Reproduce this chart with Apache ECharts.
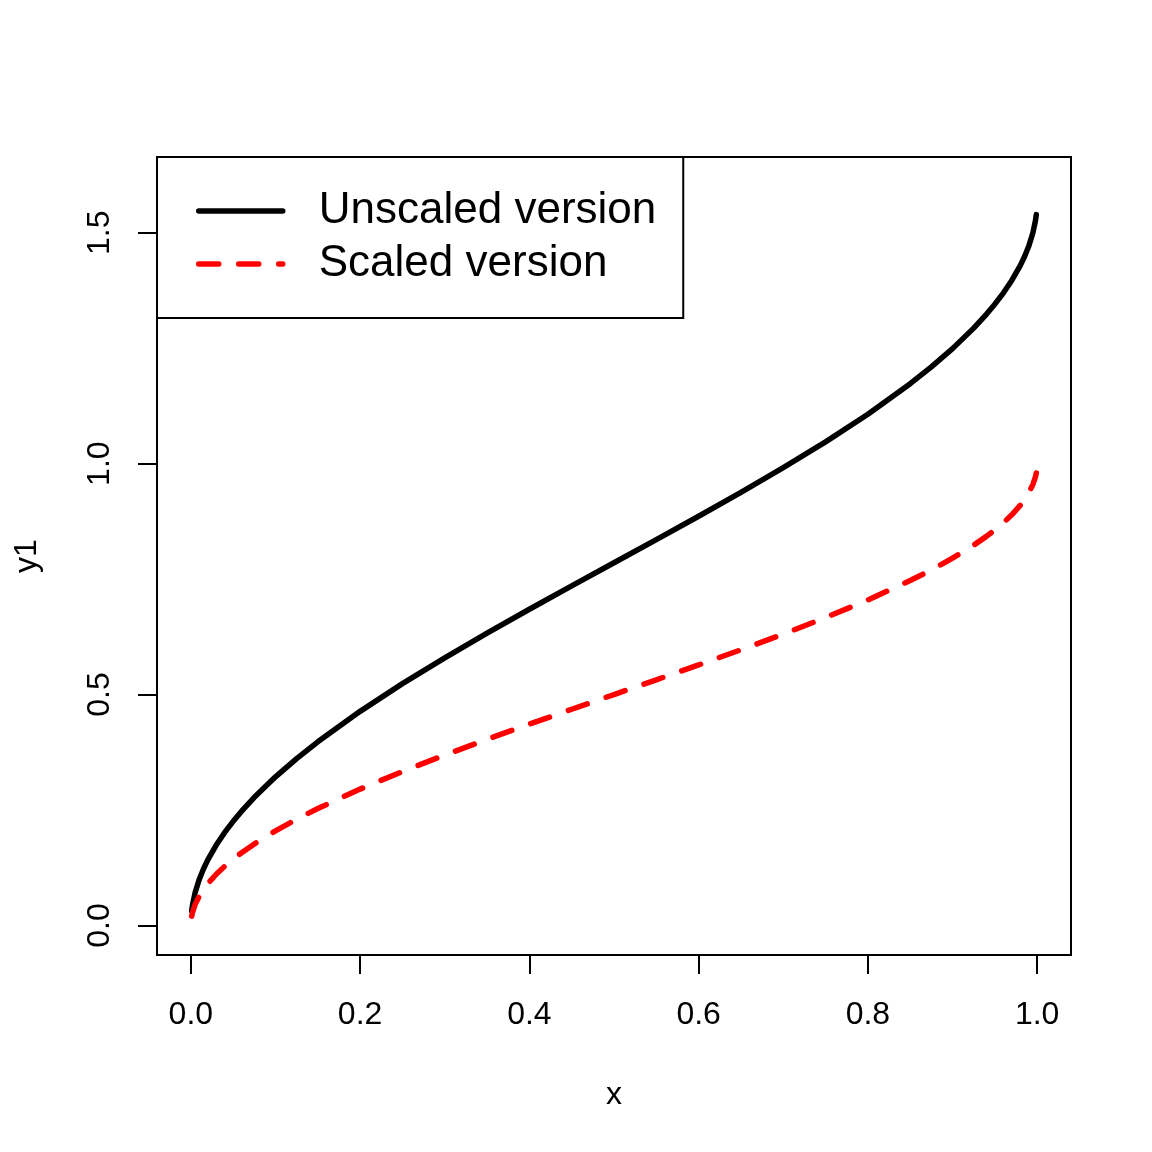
<!DOCTYPE html>
<html>
<head>
<meta charset="utf-8">
<title>y1 vs x</title>
<script src="https://cdn.jsdelivr.net/npm/echarts@6/dist/echarts.min.js"></script>
<style>
    html, body { margin: 0; padding: 0; background: #fff; }
    #main { width: 1152px; height: 1152px; }
</style>
</head>
<body>
<div id="main"></div>
<script>
// x positions of the sampled curve
var xValues = [0.001, 0.002, 0.005, 0.01, 0.015, 0.02, 0.03, 0.04, 0.05, 0.06, 0.075, 0.1, 0.125, 0.15,
    0.2, 0.25, 0.3, 0.35, 0.4, 0.45, 0.5, 0.55, 0.6, 0.65, 0.7, 0.75, 0.8, 0.85, 0.875, 0.9,
    0.925, 0.94, 0.95, 0.96, 0.97, 0.98, 0.985, 0.99, 0.995, 0.998, 0.999];

// black solid curve
var unscaledValues = [0.0316, 0.0447, 0.0708, 0.1002, 0.1228, 0.1419, 0.1741, 0.2014, 0.2255, 0.2475,
    0.2774, 0.3218, 0.3614, 0.3977, 0.4636, 0.5236, 0.5796, 0.6331, 0.6847, 0.7353, 0.7854,
    0.8355, 0.8861, 0.9377, 0.9912, 1.0472, 1.1071, 1.1731, 1.2094, 1.2490, 1.2934, 1.3233,
    1.3453, 1.3694, 1.3967, 1.4289, 1.4480, 1.4706, 1.5000, 1.5261, 1.5392];

// red dashed curve
var scaledValues = [0.0201, 0.0285, 0.0451, 0.0638, 0.0782, 0.0903, 0.1108, 0.1282, 0.1436, 0.1575,
    0.1766, 0.2048, 0.2301, 0.2532, 0.2952, 0.3333, 0.3690, 0.4030, 0.4359, 0.4681, 0.5000,
    0.5319, 0.5641, 0.5970, 0.6310, 0.6667, 0.7048, 0.7468, 0.7699, 0.7952, 0.8234, 0.8425,
    0.8564, 0.8718, 0.8892, 0.9097, 0.9218, 0.9362, 0.9550, 0.9715, 0.9799];

var xTicks = [0, 0.2, 0.4, 0.6, 0.8, 1.0];
var yTicks = [0, 0.5, 1.0, 1.5];

var seriesNames = ['Unscaled version', 'Scaled version'];

var font = '"Liberation Sans", Arial, sans-serif';

function pairs(xs, ys) {
    var out = [];
    for (var i = 0; i < xs.length; i++) {
        out.push([xs[i], ys[i]]);
    }
    return out;
}

var chart = echarts.init(document.getElementById('main'), null, {renderer: 'canvas'});

var option = {
    backgroundColor: '#fff',
    animation: false,
    textStyle: {fontFamily: font, color: '#000'},
    grid: {
        left: 157,
        top: 157,
        width: 914,
        height: 798,
        show: true,
        borderColor: '#000',
        borderWidth: 2,
        backgroundColor: 'transparent'
    },
    legend: {
        left: 157,
        top: 157,
        orient: 'vertical',
        data: seriesNames,
        itemWidth: 84,
        itemHeight: 14,
        itemGap: 0,
        padding: [27.5, 27, 27.5, 39],
        borderColor: '#000',
        borderWidth: 2,
        borderRadius: 0,
        backgroundColor: '#fff',
        selectedMode: false,
        itemStyle: {opacity: 0},
        lineStyle: {width: 5.5, cap: 'round'},
        textStyle: {
            fontFamily: font,
            fontSize: 44,
            color: '#000',
            lineHeight: 45,
            padding: [8, 0, 0, 31]
        }
    },
    xAxis: {
        type: 'value',
        min: -0.04,
        max: 1.04,
        name: 'x',
        nameLocation: 'middle',
        nameGap: 124,
        nameTextStyle: {fontFamily: font, fontSize: 32, color: '#000'},
        splitLine: {show: false},
        axisLine: {show: false, onZero: false},
        axisTick: {
            show: true,
            inside: false,
            length: 19,
            customValues: xTicks,
            lineStyle: {color: '#000', width: 2}
        },
        axisLabel: {
            show: true,
            margin: 44,
            fontFamily: font,
            fontSize: 32,
            color: '#000',
            customValues: xTicks,
            formatter: function (v) {
                return v.toFixed(1);
            }
        }
    },
    yAxis: {
        type: 'value',
        min: -0.064,
        max: 1.664,
        name: 'y1',
        nameLocation: 'middle',
        nameGap: 114,
        nameTextStyle: {fontFamily: font, fontSize: 32, color: '#000'},
        splitLine: {show: false},
        axisLine: {show: false, onZero: false},
        axisTick: {
            show: true,
            inside: false,
            length: 19,
            customValues: yTicks,
            lineStyle: {color: '#000', width: 2}
        },
        axisLabel: {
            show: true,
            rotate: 90,
            margin: 41,
            align: 'center',
            verticalAlign: 'bottom',
            fontFamily: font,
            fontSize: 32,
            color: '#000',
            customValues: yTicks,
            formatter: function (v) {
                return v.toFixed(1);
            }
        }
    },
    series: [
        {
            name: seriesNames[0],
            type: 'line',
            data: pairs(xValues, unscaledValues),
            showSymbol: false,
            symbol: 'none',
            smooth: false,
            color: '#000',
            lineStyle: {color: '#000', width: 5.5, cap: 'round', join: 'round'}
        },
        {
            name: seriesNames[1],
            type: 'line',
            data: pairs(xValues, scaledValues),
            showSymbol: false,
            symbol: 'none',
            smooth: false,
            color: '#ff0000',
            lineStyle: {color: '#ff0000', width: 5.5, type: [20, 20], cap: 'round', join: 'round'}
        }
    ]
};

chart.setOption(option);
</script>
</body>
</html>
